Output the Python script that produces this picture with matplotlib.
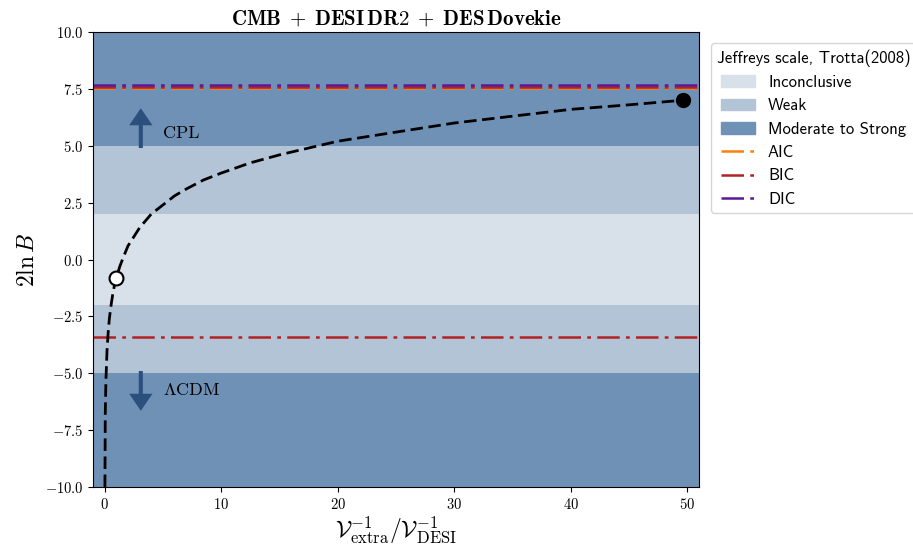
import numpy as np
import matplotlib
matplotlib.use("Agg")
from matplotlib import pyplot as plt
from matplotlib.patches import Patch
from matplotlib.lines import Line2D
from matplotlib.font_manager import FontProperties

# Computer-Modern look without LaTeX
plt.rcParams['font.family'] = 'cmr10'
plt.rcParams['mathtext.fontset'] = 'cm'
plt.rcParams['axes.formatter.use_mathtext'] = True
plt.rcParams['axes.unicode_minus'] = True

# Curve: 2 ln B vs V_extra^-1 / V_DESI^-1
ratio = [0.02, 0.05, 0.1, 0.2, 0.3, 0.4, 0.55, 0.7, 0.85, 1.0, 1.3, 1.6, 2.0, 2.5,
         3.0, 4.0, 5.0, 6.0, 7.0, 8.5, 10.0, 12.5, 15.0, 17.5, 20.0, 25.0, 30.0,
         35.0, 40.0, 45.0, 49.6]
two_ln_b = [-10.0, -6.8, -5.4, -4.0, -3.2, -2.6, -2.0, -1.5, -1.1, -0.8, -0.3, 0.1,
            0.6, 1.0, 1.4, 2.0, 2.4, 2.8, 3.1, 3.5, 3.8, 4.25, 4.6, 4.9, 5.2, 5.6,
            6.0, 6.3, 6.6, 6.8, 7.0]

# open point (baseline) and filled point (full ratio)
open_pt = (1.0, -0.8)
filled_pt = (49.6, 7.0)

# information criteria thresholds
ic_names = ['AIC', 'BIC', 'DIC']
ic_colors = ['#ff7f0e', '#b22222', '#5a189a']
ic_upper = [7.55, 7.6, 7.65]
bic_lower = -3.4

# Jeffreys scale bands
band_names = ['Inconclusive', 'Weak', 'Moderate to Strong']
band_colors = ['#d8e0ea', '#b3c4d7', '#7091b6']
band_edges = [2.0, 5.0, 10.0]

fig = plt.figure(figsize=(9.13, 5.5), dpi=100)
ax = fig.add_axes([0.1019, 0.1145, 0.6637, 0.8273])

# Bands (outermost first)
ax.axhspan(-band_edges[2], band_edges[2], color=band_colors[2], lw=0)
ax.axhspan(-band_edges[1], band_edges[1], color=band_colors[1], lw=0)
ax.axhspan(-band_edges[0], band_edges[0], color=band_colors[0], lw=0)

dash_dot = (0, (9, 2.5, 1.5, 2.5))
for name, col, val in zip(ic_names, ic_colors, ic_upper):
    ax.axhline(val, color=col, lw=1.8, linestyle=dash_dot)
ax.axhline(bic_lower, color=ic_colors[1], lw=1.8, linestyle=dash_dot)

# Curve and points
ax.plot(ratio, two_ln_b, color='black', lw=2, linestyle=(0, (4.5, 2)))
ax.plot(*open_pt, 'o', ms=10, mfc='white', mec='black', mew=1.5, zorder=5)
ax.plot(*filled_pt, 'o', ms=10, mfc='black', mec='black', zorder=5)

# Arrows and labels
arrow_col = '#2c507d'
ax.arrow(3.1, 4.9, 0, 1.0, width=0.35, head_width=2.0, head_length=0.75,
         color=arrow_col, length_includes_head=False, lw=0)
ax.arrow(3.1, -4.9, 0, -1.0, width=0.35, head_width=2.0, head_length=0.75,
         color=arrow_col, length_includes_head=False, lw=0)
ax.text(5.0, 5.55, 'CPL', fontsize=13, va='center', ha='left')
ax.text(5.0, -5.75, r'$\Lambda$CDM', fontsize=13, va='center', ha='left')

ax.set_xlim(-1, 51)
ax.set_ylim(-10, 10)
ax.set_xticks([0, 10, 20, 30, 40, 50])
ax.set_yticks(np.arange(-10, 10.01, 2.5))
ax.tick_params(labelsize=10.5)

ax.set_xlabel(r'$\mathcal{V}^{-1}_{\rm extra}/\mathcal{V}^{-1}_{\rm DESI}$', fontsize=17, labelpad=2)
ax.set_ylabel(r'$2\ln B$', fontsize=17)
ax.set_title(r'$\mathbf{CMB\;+\;DESI\,DR2\;+\;DES\,Dovekie}$', fontsize=15, pad=5)

# Legend
handles = [Patch(color=c, label=n) for c, n in zip(band_colors, band_names)]
handles += [Line2D([0], [0], color=c, lw=1.8, linestyle=dash_dot, label=n)
            for c, n in zip(ic_colors, ic_names)]
sans = FontProperties(family='cmss10', size=12)
leg = ax.legend(handles=handles, loc='upper left', bbox_to_anchor=(1.02, 0.975),
                title='Jeffreys scale, Trotta(2008)', prop=sans, title_fontproperties=sans,
                frameon=True, fancybox=True, labelspacing=0.5, handlelength=2.0,
                borderaxespad=0.0, borderpad=0.35)

fig.savefig('out.png', dpi=100)
